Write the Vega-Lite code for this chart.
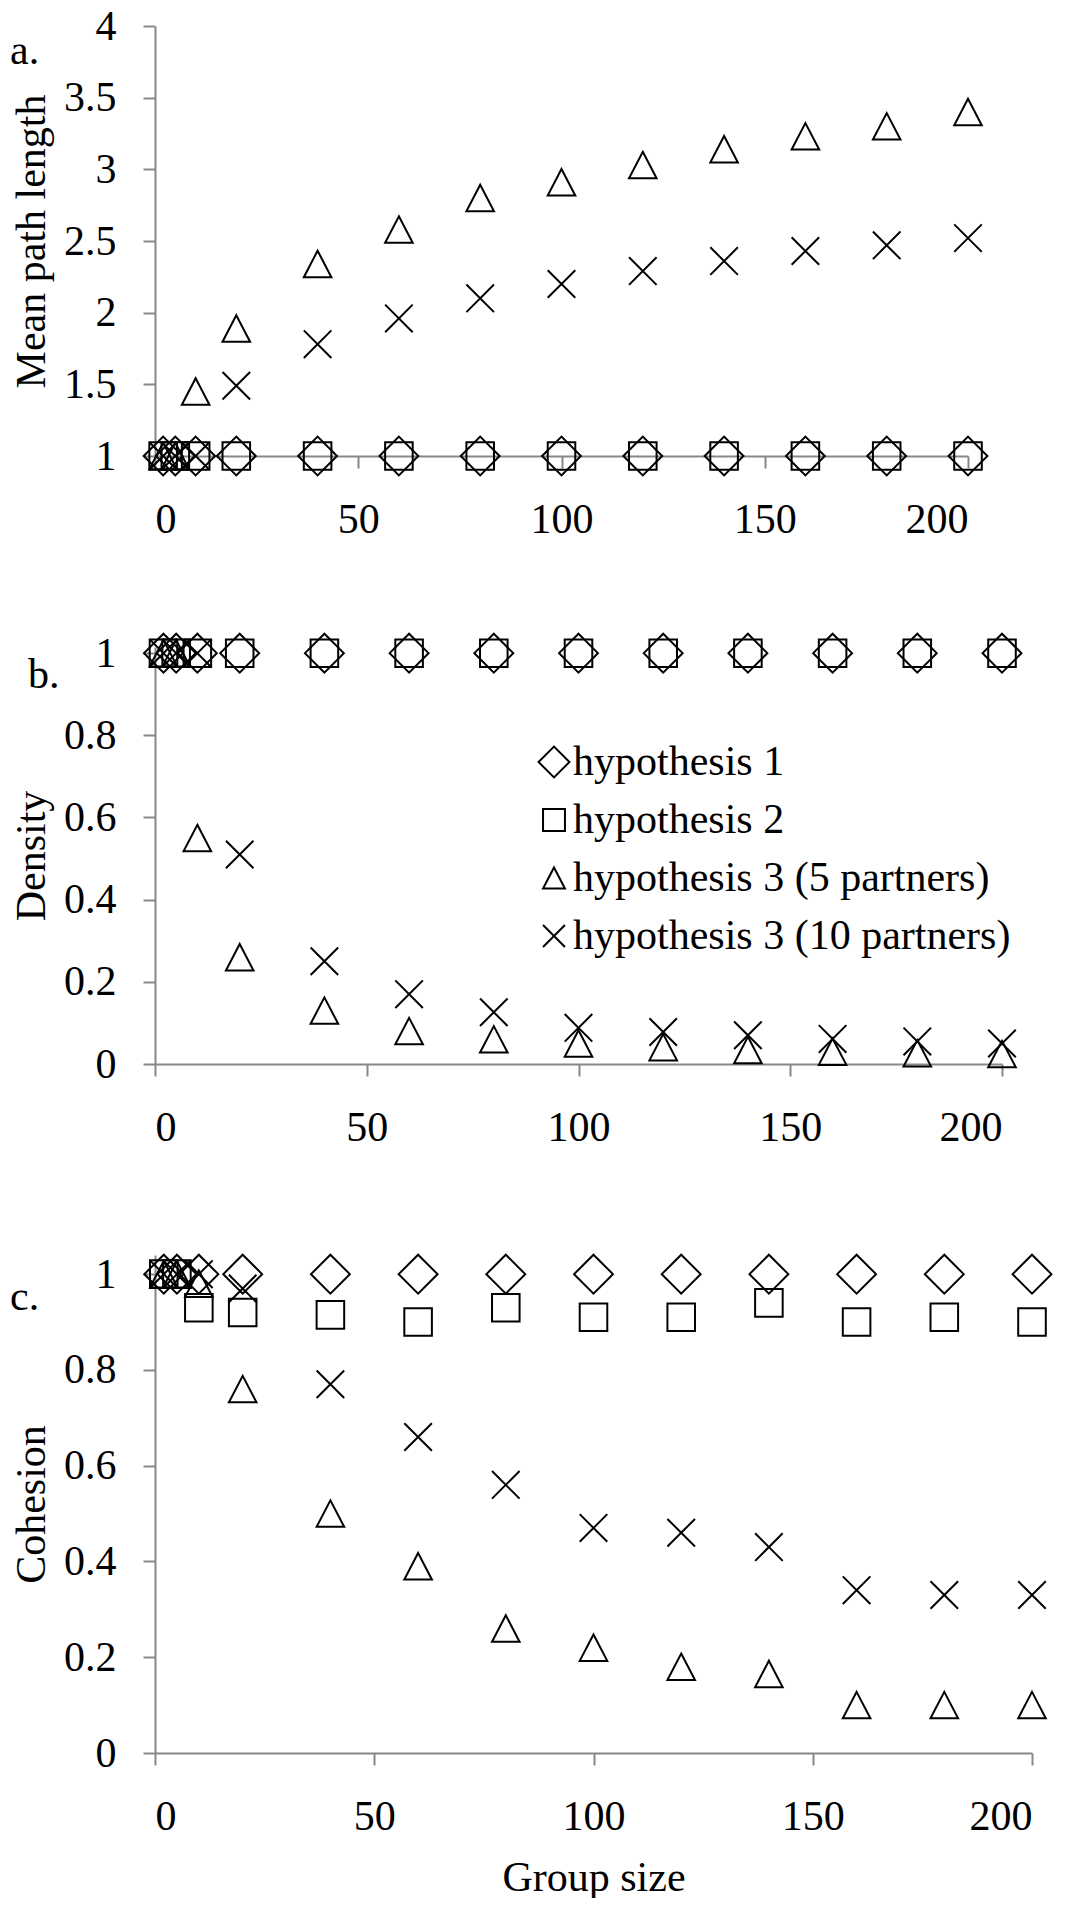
{
  "$schema": "https://vega.github.io/schema/vega-lite/v6.json",
  "background": "white",
  "padding": {"left": 10, "top": 5, "right": 0, "bottom": 0},
  "config": {
    "font": "Liberation Serif, Times New Roman, Times, DejaVu Serif, serif",
    "view": {"stroke": null},
    "axis": {
      "grid": false,
      "labelFont": "Liberation Serif, Times New Roman, Times, DejaVu Serif, serif", "labelFontSize": 42, "labelColor": "black",
      "titleFont": "Liberation Serif, Times New Roman, Times, DejaVu Serif, serif", "titleFontSize": 42, "titleFontWeight": "normal", "titleColor": "black",
      "domainColor": "#888888", "domainWidth": 2, "tickColor": "#888888", "tickWidth": 2, "tickSize": 12
    },
    "axisX": {"labelPadding": 31, "titlePadding": 20},
    "axisY": {"labelPadding": 27, "titlePadding": 10},
    "title": {"font": "Liberation Serif, Times New Roman, Times, DejaVu Serif, serif", "fontSize": 42, "fontWeight": "normal", "color": "black", "anchor": "start", "frame": "group", "baseline": "alphabetic"},
    "legend": {"labelFont": "Liberation Serif, Times New Roman, Times, DejaVu Serif, serif", "labelFontSize": 42, "labelColor": "black"}
  },
  "datasets": {
    "d": [
      {"m": "path", "n": 2, "s": "hypothesis 1", "v": 1}, {"m": "path", "n": 5, "s": "hypothesis 1", "v": 1}, {"m": "path", "n": 10, "s": "hypothesis 1", "v": 1}, {"m": "path", "n": 20, "s": "hypothesis 1", "v": 1}, {"m": "path", "n": 40, "s": "hypothesis 1", "v": 1}, {"m": "path", "n": 60, "s": "hypothesis 1", "v": 1}, {"m": "path", "n": 80, "s": "hypothesis 1", "v": 1}, {"m": "path", "n": 100, "s": "hypothesis 1", "v": 1}, {"m": "path", "n": 120, "s": "hypothesis 1", "v": 1}, {"m": "path", "n": 140, "s": "hypothesis 1", "v": 1}, {"m": "path", "n": 160, "s": "hypothesis 1", "v": 1}, {"m": "path", "n": 180, "s": "hypothesis 1", "v": 1}, {"m": "path", "n": 200, "s": "hypothesis 1", "v": 1},
      {"m": "path", "n": 2, "s": "hypothesis 2", "v": 1}, {"m": "path", "n": 5, "s": "hypothesis 2", "v": 1}, {"m": "path", "n": 10, "s": "hypothesis 2", "v": 1}, {"m": "path", "n": 20, "s": "hypothesis 2", "v": 1}, {"m": "path", "n": 40, "s": "hypothesis 2", "v": 1}, {"m": "path", "n": 60, "s": "hypothesis 2", "v": 1}, {"m": "path", "n": 80, "s": "hypothesis 2", "v": 1}, {"m": "path", "n": 100, "s": "hypothesis 2", "v": 1}, {"m": "path", "n": 120, "s": "hypothesis 2", "v": 1}, {"m": "path", "n": 140, "s": "hypothesis 2", "v": 1}, {"m": "path", "n": 160, "s": "hypothesis 2", "v": 1}, {"m": "path", "n": 180, "s": "hypothesis 2", "v": 1}, {"m": "path", "n": 200, "s": "hypothesis 2", "v": 1},
      {"m": "path", "n": 2, "s": "hypothesis 3 (5 partners)", "v": 1}, {"m": "path", "n": 5, "s": "hypothesis 3 (5 partners)", "v": 1}, {"m": "path", "n": 10, "s": "hypothesis 3 (5 partners)", "v": 1.45}, {"m": "path", "n": 20, "s": "hypothesis 3 (5 partners)", "v": 1.89}, {"m": "path", "n": 40, "s": "hypothesis 3 (5 partners)", "v": 2.34}, {"m": "path", "n": 60, "s": "hypothesis 3 (5 partners)", "v": 2.58}, {"m": "path", "n": 80, "s": "hypothesis 3 (5 partners)", "v": 2.8}, {"m": "path", "n": 100, "s": "hypothesis 3 (5 partners)", "v": 2.91}, {"m": "path", "n": 120, "s": "hypothesis 3 (5 partners)", "v": 3.03}, {"m": "path", "n": 140, "s": "hypothesis 3 (5 partners)", "v": 3.14}, {"m": "path", "n": 160, "s": "hypothesis 3 (5 partners)", "v": 3.23}, {"m": "path", "n": 180, "s": "hypothesis 3 (5 partners)", "v": 3.3}, {"m": "path", "n": 200, "s": "hypothesis 3 (5 partners)", "v": 3.4},
      {"m": "path", "n": 2, "s": "hypothesis 3 (10 partners)", "v": 1}, {"m": "path", "n": 5, "s": "hypothesis 3 (10 partners)", "v": 1}, {"m": "path", "n": 10, "s": "hypothesis 3 (10 partners)", "v": 1}, {"m": "path", "n": 20, "s": "hypothesis 3 (10 partners)", "v": 1.49}, {"m": "path", "n": 40, "s": "hypothesis 3 (10 partners)", "v": 1.78}, {"m": "path", "n": 60, "s": "hypothesis 3 (10 partners)", "v": 1.96}, {"m": "path", "n": 80, "s": "hypothesis 3 (10 partners)", "v": 2.1}, {"m": "path", "n": 100, "s": "hypothesis 3 (10 partners)", "v": 2.2}, {"m": "path", "n": 120, "s": "hypothesis 3 (10 partners)", "v": 2.29}, {"m": "path", "n": 140, "s": "hypothesis 3 (10 partners)", "v": 2.36}, {"m": "path", "n": 160, "s": "hypothesis 3 (10 partners)", "v": 2.43}, {"m": "path", "n": 180, "s": "hypothesis 3 (10 partners)", "v": 2.47}, {"m": "path", "n": 200, "s": "hypothesis 3 (10 partners)", "v": 2.52},

      {"m": "density", "n": 2, "s": "hypothesis 1", "v": 1}, {"m": "density", "n": 5, "s": "hypothesis 1", "v": 1}, {"m": "density", "n": 10, "s": "hypothesis 1", "v": 1}, {"m": "density", "n": 20, "s": "hypothesis 1", "v": 1}, {"m": "density", "n": 40, "s": "hypothesis 1", "v": 1}, {"m": "density", "n": 60, "s": "hypothesis 1", "v": 1}, {"m": "density", "n": 80, "s": "hypothesis 1", "v": 1}, {"m": "density", "n": 100, "s": "hypothesis 1", "v": 1}, {"m": "density", "n": 120, "s": "hypothesis 1", "v": 1}, {"m": "density", "n": 140, "s": "hypothesis 1", "v": 1}, {"m": "density", "n": 160, "s": "hypothesis 1", "v": 1}, {"m": "density", "n": 180, "s": "hypothesis 1", "v": 1}, {"m": "density", "n": 200, "s": "hypothesis 1", "v": 1},
      {"m": "density", "n": 2, "s": "hypothesis 2", "v": 1}, {"m": "density", "n": 5, "s": "hypothesis 2", "v": 1}, {"m": "density", "n": 10, "s": "hypothesis 2", "v": 1}, {"m": "density", "n": 20, "s": "hypothesis 2", "v": 1}, {"m": "density", "n": 40, "s": "hypothesis 2", "v": 1}, {"m": "density", "n": 60, "s": "hypothesis 2", "v": 1}, {"m": "density", "n": 80, "s": "hypothesis 2", "v": 1}, {"m": "density", "n": 100, "s": "hypothesis 2", "v": 1}, {"m": "density", "n": 120, "s": "hypothesis 2", "v": 1}, {"m": "density", "n": 140, "s": "hypothesis 2", "v": 1}, {"m": "density", "n": 160, "s": "hypothesis 2", "v": 1}, {"m": "density", "n": 180, "s": "hypothesis 2", "v": 1}, {"m": "density", "n": 200, "s": "hypothesis 2", "v": 1},
      {"m": "density", "n": 2, "s": "hypothesis 3 (5 partners)", "v": 1}, {"m": "density", "n": 5, "s": "hypothesis 3 (5 partners)", "v": 1}, {"m": "density", "n": 10, "s": "hypothesis 3 (5 partners)", "v": 0.55}, {"m": "density", "n": 20, "s": "hypothesis 3 (5 partners)", "v": 0.26}, {"m": "density", "n": 40, "s": "hypothesis 3 (5 partners)", "v": 0.13}, {"m": "density", "n": 60, "s": "hypothesis 3 (5 partners)", "v": 0.08}, {"m": "density", "n": 80, "s": "hypothesis 3 (5 partners)", "v": 0.06}, {"m": "density", "n": 100, "s": "hypothesis 3 (5 partners)", "v": 0.05}, {"m": "density", "n": 120, "s": "hypothesis 3 (5 partners)", "v": 0.041}, {"m": "density", "n": 140, "s": "hypothesis 3 (5 partners)", "v": 0.034}, {"m": "density", "n": 160, "s": "hypothesis 3 (5 partners)", "v": 0.03}, {"m": "density", "n": 180, "s": "hypothesis 3 (5 partners)", "v": 0.026}, {"m": "density", "n": 200, "s": "hypothesis 3 (5 partners)", "v": 0.024},
      {"m": "density", "n": 2, "s": "hypothesis 3 (10 partners)", "v": 1}, {"m": "density", "n": 5, "s": "hypothesis 3 (10 partners)", "v": 1}, {"m": "density", "n": 10, "s": "hypothesis 3 (10 partners)", "v": 1}, {"m": "density", "n": 20, "s": "hypothesis 3 (10 partners)", "v": 0.51}, {"m": "density", "n": 40, "s": "hypothesis 3 (10 partners)", "v": 0.25}, {"m": "density", "n": 60, "s": "hypothesis 3 (10 partners)", "v": 0.17}, {"m": "density", "n": 80, "s": "hypothesis 3 (10 partners)", "v": 0.126}, {"m": "density", "n": 100, "s": "hypothesis 3 (10 partners)", "v": 0.088}, {"m": "density", "n": 120, "s": "hypothesis 3 (10 partners)", "v": 0.078}, {"m": "density", "n": 140, "s": "hypothesis 3 (10 partners)", "v": 0.07}, {"m": "density", "n": 160, "s": "hypothesis 3 (10 partners)", "v": 0.061}, {"m": "density", "n": 180, "s": "hypothesis 3 (10 partners)", "v": 0.055}, {"m": "density", "n": 200, "s": "hypothesis 3 (10 partners)", "v": 0.05},

      {"m": "cohesion", "n": 2, "s": "hypothesis 1", "v": 1}, {"m": "cohesion", "n": 5, "s": "hypothesis 1", "v": 1}, {"m": "cohesion", "n": 10, "s": "hypothesis 1", "v": 1}, {"m": "cohesion", "n": 20, "s": "hypothesis 1", "v": 1}, {"m": "cohesion", "n": 40, "s": "hypothesis 1", "v": 1}, {"m": "cohesion", "n": 60, "s": "hypothesis 1", "v": 1}, {"m": "cohesion", "n": 80, "s": "hypothesis 1", "v": 1}, {"m": "cohesion", "n": 100, "s": "hypothesis 1", "v": 1}, {"m": "cohesion", "n": 120, "s": "hypothesis 1", "v": 1}, {"m": "cohesion", "n": 140, "s": "hypothesis 1", "v": 1}, {"m": "cohesion", "n": 160, "s": "hypothesis 1", "v": 1}, {"m": "cohesion", "n": 180, "s": "hypothesis 1", "v": 1}, {"m": "cohesion", "n": 200, "s": "hypothesis 1", "v": 1},
      {"m": "cohesion", "n": 2, "s": "hypothesis 2", "v": 1}, {"m": "cohesion", "n": 5, "s": "hypothesis 2", "v": 1}, {"m": "cohesion", "n": 10, "s": "hypothesis 2", "v": 0.93}, {"m": "cohesion", "n": 20, "s": "hypothesis 2", "v": 0.92}, {"m": "cohesion", "n": 40, "s": "hypothesis 2", "v": 0.915}, {"m": "cohesion", "n": 60, "s": "hypothesis 2", "v": 0.9}, {"m": "cohesion", "n": 80, "s": "hypothesis 2", "v": 0.93}, {"m": "cohesion", "n": 100, "s": "hypothesis 2", "v": 0.91}, {"m": "cohesion", "n": 120, "s": "hypothesis 2", "v": 0.91}, {"m": "cohesion", "n": 140, "s": "hypothesis 2", "v": 0.94}, {"m": "cohesion", "n": 160, "s": "hypothesis 2", "v": 0.9}, {"m": "cohesion", "n": 180, "s": "hypothesis 2", "v": 0.91}, {"m": "cohesion", "n": 200, "s": "hypothesis 2", "v": 0.9},
      {"m": "cohesion", "n": 2, "s": "hypothesis 3 (5 partners)", "v": 1}, {"m": "cohesion", "n": 5, "s": "hypothesis 3 (5 partners)", "v": 1}, {"m": "cohesion", "n": 10, "s": "hypothesis 3 (5 partners)", "v": 0.98}, {"m": "cohesion", "n": 20, "s": "hypothesis 3 (5 partners)", "v": 0.76}, {"m": "cohesion", "n": 40, "s": "hypothesis 3 (5 partners)", "v": 0.5}, {"m": "cohesion", "n": 60, "s": "hypothesis 3 (5 partners)", "v": 0.39}, {"m": "cohesion", "n": 80, "s": "hypothesis 3 (5 partners)", "v": 0.26}, {"m": "cohesion", "n": 100, "s": "hypothesis 3 (5 partners)", "v": 0.22}, {"m": "cohesion", "n": 120, "s": "hypothesis 3 (5 partners)", "v": 0.18}, {"m": "cohesion", "n": 140, "s": "hypothesis 3 (5 partners)", "v": 0.165}, {"m": "cohesion", "n": 160, "s": "hypothesis 3 (5 partners)", "v": 0.1}, {"m": "cohesion", "n": 180, "s": "hypothesis 3 (5 partners)", "v": 0.1}, {"m": "cohesion", "n": 200, "s": "hypothesis 3 (5 partners)", "v": 0.1},
      {"m": "cohesion", "n": 2, "s": "hypothesis 3 (10 partners)", "v": 1}, {"m": "cohesion", "n": 5, "s": "hypothesis 3 (10 partners)", "v": 1}, {"m": "cohesion", "n": 10, "s": "hypothesis 3 (10 partners)", "v": 1}, {"m": "cohesion", "n": 20, "s": "hypothesis 3 (10 partners)", "v": 0.97}, {"m": "cohesion", "n": 40, "s": "hypothesis 3 (10 partners)", "v": 0.77}, {"m": "cohesion", "n": 60, "s": "hypothesis 3 (10 partners)", "v": 0.66}, {"m": "cohesion", "n": 80, "s": "hypothesis 3 (10 partners)", "v": 0.56}, {"m": "cohesion", "n": 100, "s": "hypothesis 3 (10 partners)", "v": 0.47}, {"m": "cohesion", "n": 120, "s": "hypothesis 3 (10 partners)", "v": 0.46}, {"m": "cohesion", "n": 140, "s": "hypothesis 3 (10 partners)", "v": 0.43}, {"m": "cohesion", "n": 160, "s": "hypothesis 3 (10 partners)", "v": 0.34}, {"m": "cohesion", "n": 180, "s": "hypothesis 3 (10 partners)", "v": 0.33}, {"m": "cohesion", "n": 200, "s": "hypothesis 3 (10 partners)", "v": 0.33}
    ]
  },
  "data": {"name": "d"},
  "bounds": "flush",
  "spacing": 191,
  "resolve": {"legend": {"shape": "independent"}},
  "vconcat": [
    {
      "width": 813, "height": 430,
      "title": {"text": "a.", "dx": -145, "dy": 72},
      "transform": [{"filter": "datum.m === 'path'"}],
      "mark": {"type": "point", "filled": false, "color": "black", "strokeWidth": 2, "size": 760, "opacity": 1, "clip": false},
      "encoding": {
        "x": {"field": "n", "type": "quantitative", "scale": {"domain": [0, 200], "nice": false}, "axis": {"values": [0, 50, 100, 150, 200], "title": null}},
        "y": {"field": "v", "type": "quantitative", "scale": {"domain": [1, 4], "nice": false, "zero": false}, "axis": {"values": [1, 1.5, 2, 2.5, 3, 3.5, 4], "format": "~g", "title": "Mean path length"}},
        "shape": {"field": "s", "type": "nominal", "scale": {"domain": ["hypothesis 1", "hypothesis 2", "hypothesis 3 (5 partners)", "hypothesis 3 (10 partners)"], "range": ["M-1.41,0L0,-1.41L1.41,0L0,1.41Z", "M-1,-1L1,-1L1,1L-1,1Z", "M0,-0.96L1,0.96L-1,0.96Z", "M-1,-1L1,1M-1,1L1,-1"]}, "legend": null}
      }
    },
    {
      "width": 847, "height": 417,
      "title": {"text": "b.", "dx": -127, "dy": 71},
      "transform": [{"filter": "datum.m === 'density'"}],
      "mark": {"type": "point", "filled": false, "color": "black", "strokeWidth": 2, "size": 760, "opacity": 1, "clip": false},
      "encoding": {
        "x": {"field": "n", "type": "quantitative", "scale": {"domain": [0, 200], "nice": false}, "axis": {"values": [0, 50, 100, 150, 200], "title": null}},
        "y": {"field": "v", "type": "quantitative", "scale": {"domain": [0, 1.015], "nice": false}, "axis": {"values": [0, 0.2, 0.4, 0.6, 0.8, 1], "format": "~g", "title": "Density"}},
        "shape": {"field": "s", "type": "nominal", "scale": {"domain": ["hypothesis 1", "hypothesis 2", "hypothesis 3 (5 partners)", "hypothesis 3 (10 partners)"], "range": ["M-1.41,0L0,-1.41L1.41,0L0,1.41Z", "M-1,-1L1,-1L1,1L-1,1Z", "M0,-0.96L1,0.96L-1,0.96Z", "M-1,-1L1,1M-1,1L1,-1"]},
          "legend": {"orient": "none", "legendX": 378, "legendY": 94, "title": null, "direction": "vertical", "padding": 0, "symbolSize": 480, "symbolStrokeWidth": 2, "symbolStrokeColor": "black", "symbolFillColor": "transparent", "rowPadding": 16, "labelOffset": -2, "labelFont": "Liberation Serif, Times New Roman, Times, DejaVu Serif, serif", "labelFontSize": 42, "labelColor": "black", "labelLimit": 0}}
      }
    },
    {
      "width": 877, "height": 498,
      "title": {"text": "c.", "dx": -145, "dy": 72},
      "transform": [{"filter": "datum.m === 'cohesion'"}],
      "mark": {"type": "point", "filled": false, "color": "black", "strokeWidth": 2, "size": 760, "opacity": 1, "clip": false},
      "encoding": {
        "x": {"field": "n", "type": "quantitative", "scale": {"domain": [0, 200], "nice": false}, "axis": {"values": [0, 50, 100, 150, 200], "title": "Group size"}},
        "y": {"field": "v", "type": "quantitative", "scale": {"domain": [0, 1.04], "nice": false}, "axis": {"values": [0, 0.2, 0.4, 0.6, 0.8, 1], "format": "~g", "title": "Cohesion"}},
        "shape": {"field": "s", "type": "nominal", "scale": {"domain": ["hypothesis 1", "hypothesis 2", "hypothesis 3 (5 partners)", "hypothesis 3 (10 partners)"], "range": ["M-1.41,0L0,-1.41L1.41,0L0,1.41Z", "M-1,-1L1,-1L1,1L-1,1Z", "M0,-0.96L1,0.96L-1,0.96Z", "M-1,-1L1,1M-1,1L1,-1"]}, "legend": null}
      }
    }
  ]
}
